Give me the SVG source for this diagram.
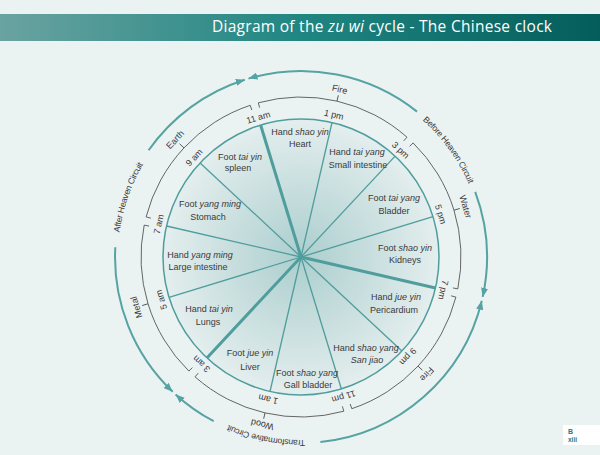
<svg xmlns="http://www.w3.org/2000/svg" width="600" height="455" viewBox="0 0 600 455">
<defs>
<linearGradient id="bar" x1="0" y1="0" x2="1" y2="0">
<stop offset="0" stop-color="#6aa3a1"/>
<stop offset="0.5" stop-color="#208682"/>
<stop offset="1" stop-color="#045d5a"/>
</linearGradient>
<radialGradient id="disc" cx="301" cy="257" r="138" gradientUnits="userSpaceOnUse">
<stop offset="0" stop-color="#accece"/>
<stop offset="1" stop-color="#e4eeee"/>
</radialGradient>
<marker id="ah" viewBox="0 0 10 8" refX="10" refY="4" markerWidth="9" markerHeight="7.5" markerUnits="userSpaceOnUse" orient="auto-start-reverse">
<path d="M0,0 L10,4 L0,8 z" fill="#55a3a2"/>
</marker>
<path id="tpBefore" d="M403.3,105.3 A183,183 0 0 1 476.9,206.6"/>
<path id="tpAfter" d="M118.0,260.2 A183,183 0 0 1 158.8,141.8"/>
<path id="tpTrans" d="M329.6,437.7 A183,183 0 0 1 206.8,413.9"/>
</defs>
<style>
.lbl{font-family:"Liberation Sans",Arial,sans-serif;font-size:9px;fill:#3a3a3a;text-anchor:middle}
.cl{font-size:8.6px;letter-spacing:-0.25px}
.it{font-style:italic}
.spoke{stroke:#4f9d9c;stroke-width:1.3;fill:none}
.thick{stroke:#4f9d9c;stroke-width:3;fill:none}
.ring{stroke:#555;stroke-width:0.9;fill:none}
.circ{stroke:#55a3a2;stroke-width:2;fill:none}
</style>
<rect x="0" y="0" width="600" height="455" fill="#ebf2f2"/>
<g id="title">
<rect x="0" y="14" width="600" height="27" fill="url(#bar)"/>
<text x="552" y="32" text-anchor="end" textLength="340" lengthAdjust="spacing" font-family="'Open Sans','Noto Sans',sans-serif" font-size="15.5" fill="#ffffff">Diagram of the <tspan font-style="italic">zu wi</tspan> cycle - The Chinese clock</text>
</g>
<g id="disc-node">
<circle cx="301" cy="257" r="138" fill="url(#disc)" stroke="#4f9d9c" stroke-width="1.5"/>
</g>
<g id="connectors">
<line class="spoke" x1="301" y1="257" x2="401.9" y2="351.1"/>
<line class="spoke" x1="301" y1="257" x2="341.4" y2="389.0"/>
<line class="spoke" x1="301" y1="257" x2="270.0" y2="391.5"/>
<line class="spoke" x1="301" y1="257" x2="169.0" y2="297.4"/>
<line class="spoke" x1="301" y1="257" x2="166.5" y2="226.0"/>
<line class="spoke" x1="301" y1="257" x2="200.1" y2="162.9"/>
<line class="spoke" x1="301" y1="257" x2="332.0" y2="122.5"/>
<line class="spoke" x1="301" y1="257" x2="395.1" y2="156.1"/>
<line class="spoke" x1="301" y1="257" x2="433.0" y2="216.6"/>
<line class="thick" x1="301" y1="257" x2="435.5" y2="288.0"/>
<line class="thick" x1="301" y1="257" x2="206.9" y2="357.9"/>
<line class="thick" x1="301" y1="257" x2="260.6" y2="125.0"/>
<path class="ring" d="M259.6,107.6 L258.3,102.8 A160,160 0 0 1 407.0,137.2 L403.7,140.9"/>
<path class="ring" d="M409.6,146.4 L413.1,142.9 A160,160 0 0 1 457.8,288.9 L452.9,287.9"/>
<path class="ring" d="M451.1,295.8 L455.9,297.1 A160,160 0 0 1 351.8,408.7 L350.2,404.0"/>
<path class="ring" d="M342.4,406.4 L343.8,411.2 A160,160 0 0 1 195.0,376.8 L198.3,373.1"/>
<path class="ring" d="M192.4,367.6 L188.9,371.1 A160,160 0 0 1 144.2,225.1 L149.1,226.1"/>
<path class="ring" d="M150.9,218.2 L146.1,216.9 A160,160 0 0 1 250.2,105.3 L251.8,110.0"/>
<g class="ring">
<line x1="301" y1="97" x2="301" y2="91" transform="rotate(13 301 257)"/>
<line x1="301" y1="97" x2="301" y2="91" transform="rotate(73 301 257)"/>
<line x1="301" y1="97" x2="301" y2="91" transform="rotate(133 301 257)"/>
<line x1="301" y1="97" x2="301" y2="91" transform="rotate(193 301 257)"/>
<line x1="301" y1="97" x2="301" y2="91" transform="rotate(253 301 257)"/>
<line x1="301" y1="97" x2="301" y2="91" transform="rotate(313 301 257)"/>
</g>
<path class="circ" d="M248.5,78.6 A186,186 0 0 1 417.0,111.6" marker-start="url(#ah)"/>
<path class="circ" d="M475.2,191.9 A186,186 0 0 1 482.7,296.9" marker-end="url(#ah)"/>
<path class="circ" d="M481.8,300.7 A186,186 0 0 1 320.4,442.0" marker-start="url(#ah)"/>
<path class="circ" d="M213.7,421.2 A186,186 0 0 1 175.6,394.4" marker-end="url(#ah)"/>
<path class="circ" d="M172.7,391.7 A186,186 0 0 1 115.3,247.3" marker-start="url(#ah)"/>
<path class="circ" d="M148.6,150.3 A186,186 0 0 1 244.8,79.7" marker-end="url(#ah)"/>
</g>
<g id="circuit-labels" class="lbl cl">
<text><textPath href="#tpBefore" startOffset="50%">Before Heaven Circuit</textPath></text>
<text><textPath href="#tpAfter" startOffset="50%">After Heaven Circuit</textPath></text>
<text><textPath href="#tpTrans" startOffset="50%">Transformative Circuit</textPath></text>
</g>
<g id="elements" class="lbl">
<text x="301" y="88" transform="rotate(13 301 257)">Fire</text>
<text x="301" y="88" transform="rotate(73 301 257)">Water</text>
<text x="301" y="88" transform="rotate(133 301 257)">Fire</text>
<text x="301" y="88" transform="rotate(193 301 257)">Wood</text>
<text x="301" y="88" transform="rotate(253 301 257)">Metal</text>
<text x="301" y="88" transform="rotate(313 301 257)">Earth</text>
</g>
<g id="hours" class="lbl">
<text x="301" y="114" transform="rotate(103 301 257)">7 pm</text>
<text x="301" y="114" transform="rotate(133 301 257)">9 pm</text>
<text x="301" y="114" transform="rotate(163 301 257)">11 pm</text>
<text x="301" y="114" transform="rotate(193 301 257)">1 am</text>
<text x="301" y="114" transform="rotate(223 301 257)">3 am</text>
<text x="301" y="114" transform="rotate(253 301 257)">5 am</text>
<text x="301" y="114" transform="rotate(283 301 257)">7 am</text>
<text x="301" y="114" transform="rotate(313 301 257)">9 am</text>
<text x="301" y="114" transform="rotate(343 301 257)">11 am</text>
<text x="301" y="114" transform="rotate(13 301 257)">1 pm</text>
<text x="301" y="114" transform="rotate(43 301 257)">3 pm</text>
<text x="301" y="114" transform="rotate(73 301 257)">5 pm</text>
</g>
<g id="heart" class="lbl"><text x="300" y="135">Hand <tspan class="it">shao yin</tspan></text><text x="300" y="147">Heart</text></g>
<g id="small-intestine" class="lbl"><text x="357" y="155">Hand <tspan class="it">tai yang</tspan></text><text x="358" y="168">Small intestine</text></g>
<g id="bladder" class="lbl"><text x="394" y="201">Foot <tspan class="it">tai yang</tspan></text><text x="394" y="214">Bladder</text></g>
<g id="kidneys" class="lbl"><text x="405" y="251">Foot <tspan class="it">shao yin</tspan></text><text x="405" y="263">Kidneys</text></g>
<g id="pericardium" class="lbl"><text x="396" y="300">Hand <tspan class="it">jue yin</tspan></text><text x="394" y="313">Pericardium</text></g>
<g id="san-jiao" class="lbl"><text x="366" y="351">Hand <tspan class="it">shao yang</tspan></text><text x="367" y="363" class="it">San jiao</text></g>
<g id="gall-bladder" class="lbl"><text x="307" y="376">Foot <tspan class="it">shao yang</tspan></text><text x="308" y="388">Gall bladder</text></g>
<g id="liver" class="lbl"><text x="250" y="356">Foot <tspan class="it">jue yin</tspan></text><text x="250" y="370">Liver</text></g>
<g id="lungs" class="lbl"><text x="209" y="312">Hand <tspan class="it">tai yin</tspan></text><text x="208" y="325">Lungs</text></g>
<g id="large-intestine" class="lbl"><text x="200" y="258">Hand <tspan class="it">yang ming</tspan></text><text x="198" y="270">Large intestine</text></g>
<g id="stomach" class="lbl"><text x="210" y="207">Foot <tspan class="it">yang ming</tspan></text><text x="208" y="220">Stomach</text></g>
<g id="spleen" class="lbl"><text x="240" y="160">Foot <tspan class="it">tai yin</tspan></text><text x="238" y="171">spleen</text></g>
<g id="page-mark">
<rect x="563" y="425" width="37" height="20" fill="#ffffff"/>
<text x="568" y="434" font-family="'Liberation Sans',Arial,sans-serif" font-size="7" font-weight="bold" fill="#2a7a78">B</text>
<text x="568" y="442" font-family="'Liberation Sans',Arial,sans-serif" font-size="6.5" font-weight="bold" fill="#2a7a78">xiii</text>
</g>
</svg>
